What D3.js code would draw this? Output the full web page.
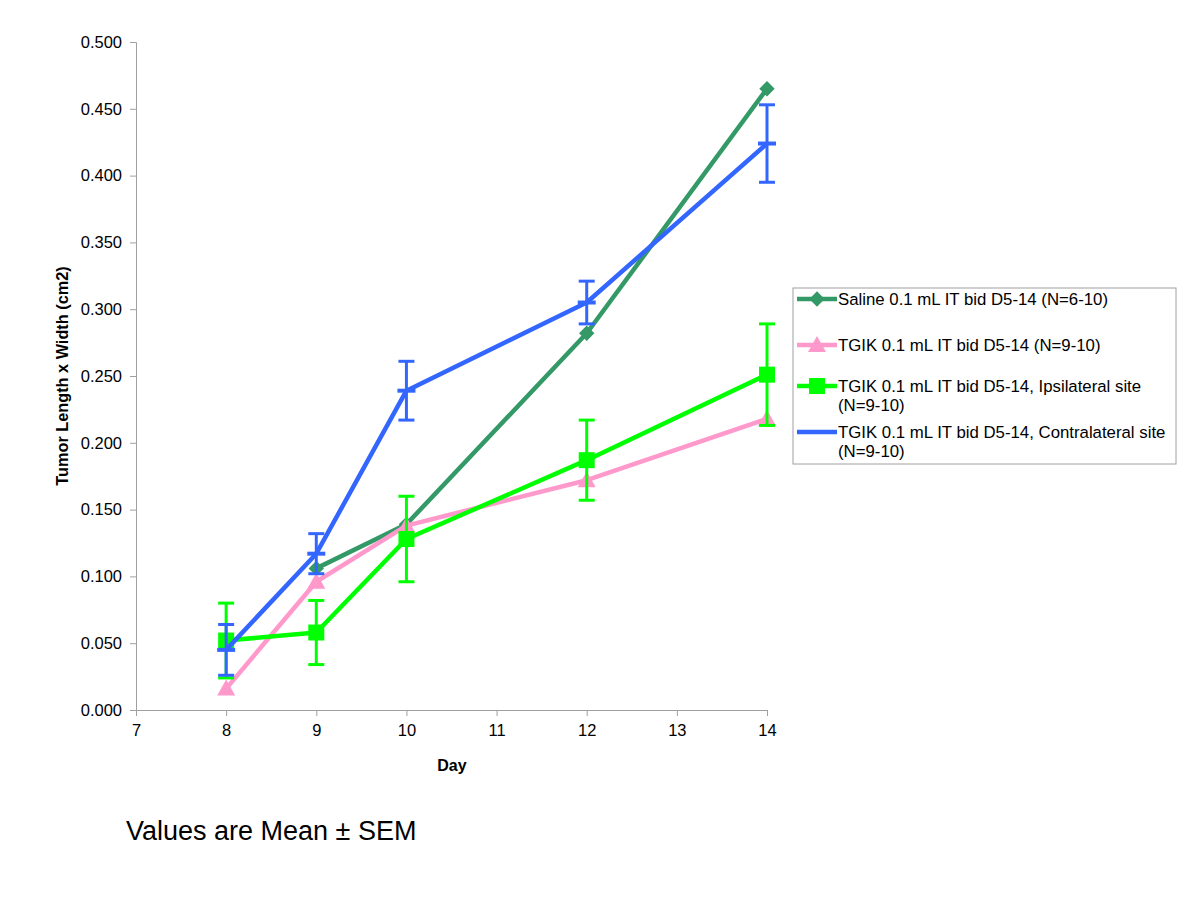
<!DOCTYPE html>
<html>
<head>
<meta charset="utf-8">
<script src="https://cdn.jsdelivr.net/npm/d3@7"></script>
<style>
  body { margin: 0; background: #fff; }
  svg { font-family: "Liberation Sans", Arial, sans-serif; }
</style>
</head>
<body>
<svg id="chart" width="1200" height="917"></svg>
<script>
/* data */
var days = [8, 9, 10, 12, 14];
var salineMean = [null, 0.106, 0.139, 0.282, 0.465];
var tgikMean = [0.016, 0.096, 0.138, 0.172, 0.218];
var ipsiMean = [0.052, 0.058, 0.128, 0.187, 0.251];
var ipsiErr = [0.028, 0.024, 0.032, 0.030, 0.038];
var contraMean = [0.045, 0.117, 0.239, 0.305, 0.424];
var contraErr = [0.019, 0.015, 0.022, 0.016, 0.029];
var xTicks = [7, 8, 9, 10, 11, 12, 13, 14];
var yTicks = d3.range(0, 0.5001, 0.05);

var series = [
  { lines: ["Saline 0.1 mL IT bid D5-14 (N=6-10)"],
    color: "#339966", mean: salineMean, err: null, marker: "diamond" },
  { lines: ["TGIK 0.1 mL IT bid D5-14 (N=9-10)"],
    color: "#ff99cc", mean: tgikMean, err: null, marker: "triangle" },
  { lines: ["TGIK 0.1 mL IT bid D5-14, Ipsilateral site", "(N=9-10)"],
    color: "#00ff00", mean: ipsiMean, err: ipsiErr, marker: "square" },
  { lines: ["TGIK 0.1 mL IT bid D5-14, Contralateral site", "(N=9-10)"],
    color: "#3366ff", mean: contraMean, err: contraErr, marker: "dash" }
];

var svg = d3.select("#chart");
var x = d3.scaleLinear().domain([7, 14]).range([136, 767]);
var y = d3.scaleLinear().domain([0, 0.5]).range([710, 42]);

/* axes */
var xAxis = svg.append("g").attr("transform", "translate(0,710)")
  .call(d3.axisBottom(x).tickValues(xTicks).tickSize(6).tickPadding(8).tickFormat(d3.format("d")));
var yAxis = svg.append("g").attr("transform", "translate(136,0)")
  .call(d3.axisLeft(y).tickValues(yTicks).tickSize(6).tickPadding(8).tickFormat(d3.format(".3f")));
[xAxis, yAxis].forEach(function(a) {
  a.select(".domain").attr("stroke", "#a0a0a0");
  a.selectAll(".tick line").attr("stroke", "#a0a0a0");
  a.selectAll(".tick text").attr("fill", "#000").style("font-size", "16.5px")
    .style("font-family", "Liberation Sans, Arial, sans-serif");
});

svg.append("text").attr("x", 452).attr("y", 771).attr("text-anchor", "middle")
  .style("font-size", "16px").style("font-weight", "bold").text("Day");
svg.append("text").attr("transform", "translate(68,376) rotate(-90)").attr("text-anchor", "middle")
  .style("font-size", "16.3px").style("font-weight", "bold").text("Tumor Length x Width (cm2)");

function drawMarker(g, kind, cx, cy, color) {
  if (kind === "diamond") {
    g.append("path").attr("d", d3.symbol(d3.symbolDiamond2, 150)())
      .attr("transform", "translate(" + cx + "," + cy + ")").attr("fill", color);
  } else if (kind === "triangle") {
    g.append("path").attr("d", "M0,-9L9,7L-9,7Z")
      .attr("transform", "translate(" + cx + "," + cy + ")").attr("fill", color);
  } else if (kind === "square") {
    g.append("rect").attr("x", cx - 8).attr("y", cy - 8).attr("width", 16).attr("height", 16).attr("fill", color);
  } else if (kind === "dash") {
    g.append("line").attr("x1", cx - 9).attr("x2", cx + 9).attr("y1", cy).attr("y2", cy)
      .attr("stroke", color).attr("stroke-width", 4);
  }
}

var line = d3.line()
  .defined(function(d) { return d.v !== null; })
  .x(function(d) { return x(d.day); })
  .y(function(d) { return y(d.v); });

series.forEach(function(s) {
  var pts = days.map(function(d, i) { return { day: d, v: s.mean[i], e: s.err ? s.err[i] : null }; });
  var g = svg.append("g");
  // error bars
  if (s.err) {
    pts.forEach(function(p) {
      var lo = y(p.v - p.e), hi = y(p.v + p.e), cx = x(p.day);
      g.append("line").attr("x1", cx).attr("x2", cx).attr("y1", lo).attr("y2", hi)
        .attr("stroke", s.color).attr("stroke-width", 3);
      [lo, hi].forEach(function(cy) {
        g.append("line").attr("x1", cx - 8).attr("x2", cx + 8).attr("y1", cy).attr("y2", cy)
          .attr("stroke", s.color).attr("stroke-width", 3);
      });
    });
  }
  g.append("path").datum(pts).attr("d", line).attr("fill", "none")
    .attr("stroke", s.color).attr("stroke-width", 4.5).attr("stroke-linejoin", "round");
  pts.filter(function(p) { return p.v !== null; }).forEach(function(p) {
    drawMarker(g, s.marker, x(p.day), y(p.v), s.color);
  });
});

/* legend */
var lg = svg.append("g");
lg.append("rect").attr("x", 793).attr("y", 288).attr("width", 383).attr("height", 176)
  .attr("fill", "#fff").attr("stroke", "#a0a0a0").attr("stroke-width", 1);
var rowY = [299, 345, 386, 432];
series.forEach(function(s, i) {
  var ly = rowY[i];
  lg.append("line").attr("x1", 797).attr("x2", 837).attr("y1", ly).attr("y2", ly)
    .attr("stroke", s.color).attr("stroke-width", 4.5);
  if (s.marker !== "dash") drawMarker(lg, s.marker, 817, ly, s.color);
  s.lines.forEach(function(t, j) {
    lg.append("text").attr("x", 838).attr("y", ly + j * 19).attr("dy", "0.35em")
      .style("font-size", "16.8px").text(t);
  });
});

svg.append("text").attr("x", 126).attr("y", 840).style("font-size", "27px").text("Values are Mean \u00b1 SEM");
</script>
</body>
</html>
